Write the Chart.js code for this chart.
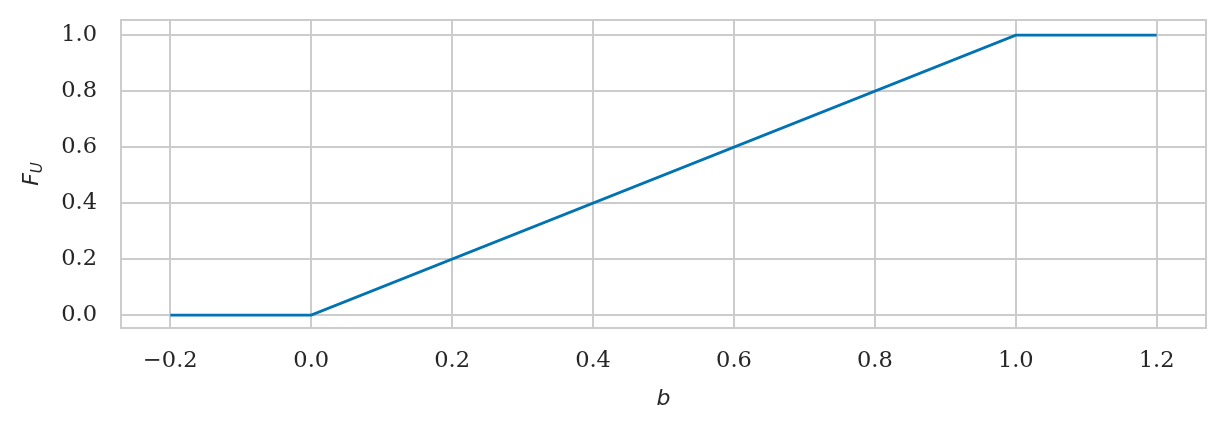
<!DOCTYPE html>
<html>
<head>
<meta charset="utf-8">
<script src="https://cdn.jsdelivr.net/npm/chart.js@4/dist/chart.umd.min.js"></script>
<style>
  html, body { margin: 0; padding: 0; background: #fff; }
  #wrap { width: 1226px; height: 432px; }
</style>
</head>
<body>
<div id="wrap"><canvas id="grafico" width="1226" height="432"></canvas></div>
<script>
// dados da curva F_U(b)
const valoresB = [-0.2, 0.0, 1.0, 1.2];
const valoresF = [0.0, 0.0, 1.0, 1.0];
const ticksX = [-0.2, 0.0, 0.2, 0.4, 0.6, 0.8, 1.0, 1.2];
const ticksY = [0.0, 0.2, 0.4, 0.6, 0.8, 1.0];

const corLinha = '#0173b2';
const corGrade = '#cccccc';
const corTexto = '#262626';
const fonteTicks = { family: '"DejaVu Serif", serif', size: 22.5 };

function formata(v) {
  return (v < 0 ? '\u2212' : '') + Math.abs(v).toFixed(1);
}

// moldura do eixo e rótulo do eixo y com subscrito
const moldura = {
  id: 'moldura',
  afterDraw(chart) {
    const { ctx, chartArea: a } = chart;
    ctx.save();
    ctx.strokeStyle = corGrade;
    ctx.lineWidth = 2;
    ctx.strokeRect(a.left, a.top, a.right - a.left, a.bottom - a.top);

    ctx.translate(32, (a.top + a.bottom) / 2);
    ctx.rotate(-Math.PI / 2);
    ctx.fillStyle = corTexto;
    ctx.textBaseline = 'middle';
    ctx.font = 'italic 22px "DejaVu Sans"';
    const wF = ctx.measureText('F').width;
    ctx.font = 'italic 15px "DejaVu Sans"';
    const wU = ctx.measureText('U').width;
    const x0 = -(wF + wU) / 2;
    ctx.font = 'italic 22px "DejaVu Sans"';
    ctx.textAlign = 'left';
    ctx.fillText('F', x0, 0);
    ctx.font = 'italic 15px "DejaVu Sans"';
    ctx.fillText('U', x0 + wF, 6);
    ctx.restore();
  }
};

const ctx = document.getElementById('grafico').getContext('2d');

new Chart(ctx, {
  type: 'line',
  data: {
    datasets: [{
      label: 'F_U',
      data: valoresB.map((b, i) => ({ x: b, y: valoresF[i] })),
      borderColor: corLinha,
      borderWidth: 2.8,
      pointRadius: 0,
      tension: 0,
      fill: false
    }]
  },
  options: {
    responsive: false,
    animation: false,
    layout: { padding: { left: 0, top: 20, right: 20, bottom: 0 } },
    plugins: { legend: { display: false }, tooltip: { enabled: false } },
    scales: {
      x: {
        type: 'linear',
        min: -0.27,
        max: 1.27,
        afterBuildTicks: (s) => { s.ticks = ticksX.map(v => ({ value: v })); },
        afterFit: (s) => { s.height = 104; s.paddingLeft = 0; s.paddingRight = 0; },
        ticks: {
          callback: (v) => formata(v),
          font: fonteTicks,
          color: corTexto,
          padding: 20,
          maxRotation: 0,
          autoSkip: false
        },
        grid: { color: corGrade, lineWidth: 2, drawTicks: false },
        border: { display: false },
        title: {
          display: true,
          text: 'b',
          font: { family: '"DejaVu Sans"', size: 22, style: 'italic' },
          color: corTexto,
          padding: { top: 4, bottom: 20 }
        }
      },
      y: {
        type: 'linear',
        min: -0.046,
        max: 1.054,
        afterBuildTicks: (s) => { s.ticks = ticksY.map(v => ({ value: v })); },
        afterFit: (s) => { s.width = 121; s.paddingTop = 0; s.paddingBottom = 0; },
        ticks: {
          callback: (v) => formata(v),
          font: fonteTicks,
          color: corTexto,
          padding: 24,
          autoSkip: false
        },
        grid: { color: corGrade, lineWidth: 2, drawTicks: false },
        border: { display: false }
      }
    }
  },
  plugins: [moldura]
});
</script>
</body>
</html>
